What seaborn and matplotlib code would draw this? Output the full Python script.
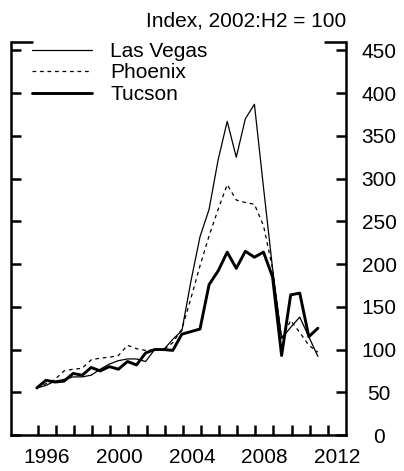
import pandas as pd
import matplotlib
matplotlib.use("Agg")
import matplotlib.pyplot as plt
import seaborn as sns

# half-yearly periods, 1995:H2 .. 2011:H1
periods = [f"{y}:H{h}" for y in range(1995, 2012) for h in (1, 2)][1:-1]

las_vegas = [55, 58, 63, 65, 68, 68, 70, 77, 83, 87, 89, 89, 86, 100, 100, 112,
             122, 180, 232, 264, 322, 367, 325, 370, 387, 290, 195, 113, 126, 138,
             115, 92]
phoenix = [55, 60, 65, 75, 77, 78, 88, 90, 91, 93, 105, 101, 99, 100, 100, 108,
           124, 160, 198, 233, 264, 293, 275, 272, 270, 245, 195, 113, 134, 120,
           105, 97]
tucson = [55, 64, 62, 63, 72, 70, 79, 75, 80, 77, 86, 82, 96, 100, 100, 99,
          118, 121, 124, 176, 192, 214, 195, 215, 208, 214, 185, 93, 164, 166,
          115, 125]

year_ticks = list(range(1996, 2013))
year_labels = ["1996", "2000", "2004", "2008", "2012"]
y_ticks = list(range(0, 451, 50))


def to_num(p):
    y, h = p.split(":H")
    return int(y) + (int(h) - 0.1) / 2


sns.set_style("ticks", {"axes.edgecolor": "black", "xtick.color": "black",
                        "ytick.color": "black", "text.color": "black"})
plt.rcParams["font.family"] = ["Liberation Sans", "DejaVu Sans"]


def main():
    df = pd.DataFrame({"t": [to_num(p) for p in periods],
                       "Las Vegas": las_vegas, "Phoenix": phoenix, "Tucson": tucson})

    fig = plt.figure(figsize=(4.04, 4.71), dpi=100)
    pos = [0.026, 0.0764, 0.8304, 0.8347]
    ax = fig.add_axes(pos)

    sns.lineplot(data=df, x="t", y="Las Vegas", ax=ax, color="black", lw=0.9, label="Las Vegas")
    sns.lineplot(data=df, x="t", y="Phoenix", ax=ax, color="black", lw=0.9,
                 linestyle=(0, (3, 3)), label="Phoenix")
    sns.lineplot(data=df, x="t", y="Tucson", ax=ax, color="black", lw=2.1, label="Tucson")

    ax.set_xlim(1994.5, 2013.0)
    ax.set_ylim(0, 460)
    ax.set_xlabel("")
    ax.set_ylabel("")

    ax.set_yticks(y_ticks)
    ax.set_yticks([460], minor=True)
    ax.tick_params(axis="y", which="both", direction="in", left=True, right=True,
                   labelleft=False, labelright=True, width=1.8, color="black")
    ax.tick_params(axis="y", which="major", length=7.2, pad=23.8, labelsize=15)
    ax.tick_params(axis="y", which="minor", length=15.8)
    for lab in ax.get_yticklabels():
        lab.set_horizontalalignment("center")

    ax.spines["top"].set_visible(False)
    for s in ("left", "right", "bottom"):
        ax.spines[s].set_linewidth(1.8)
        ax.spines[s].set_color("black")

    ax.text(1.0, 1.03, "Index, 2002:H2 = 100", transform=ax.transAxes,
            ha="right", va="bottom", fontsize=15)

    ax.legend(loc="upper left", bbox_to_anchor=(0.064, 1.0), frameon=False,
              fontsize=15, handlelength=2.9, handletextpad=0.85, labelspacing=0.12,
              borderpad=0, borderaxespad=0)

    # x labels centred in the year
    ax.set_xticks([int(l) + 0.5 for l in year_labels], year_labels)
    ax.tick_params(axis="x", which="both", length=0, pad=9, labelsize=15)

    # year-boundary marks on a transparent overlay sharing the same x scale
    over = fig.add_axes(pos, facecolor="none")
    over.set_xlim(ax.get_xlim())
    over.set_ylim(0, 1)
    over.set_xticks(year_ticks)
    over.set_yticks([])
    over.tick_params(axis="x", which="major", bottom=True, top=False,
                     direction="in", length=7.2, width=1.8, color="black",
                     labelbottom=False)
    for s in over.spines.values():
        s.set_visible(False)

    fig.savefig("out.png", dpi=100)


if __name__ == "__main__":
    main()
